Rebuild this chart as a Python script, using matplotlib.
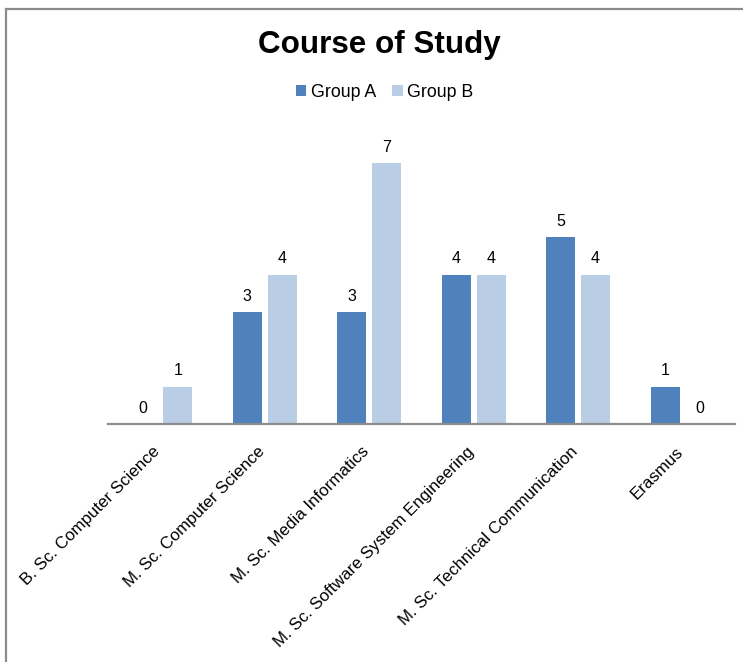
import numpy as np
import matplotlib.pyplot as plt
from matplotlib.patches import Rectangle
from matplotlib.transforms import ScaledTranslation

plt.rcParams['font.family'] = ['Liberation Sans', 'DejaVu Sans']

courses = ['B. Sc. Computer Science', 'M. Sc. Computer Science',
           'M. Sc. Media Informatics', 'M. Sc. Software System Engineering',
           'M. Sc. Technical Communication', 'Erasmus']
group_a = [0, 3, 3, 4, 5, 1]
group_b = [1, 4, 7, 4, 4, 0]

fig = plt.figure(figsize=(7.43, 6.62), dpi=100)
ax = fig.add_axes([0.1454, 0.3595, 0.8436, 0.4508])

x = np.arange(len(courses))
w = 0.277
off = 0.167
bars_a = ax.bar(x - off, group_a, w, color='#4f81bd', label='Group A')
bars_b = ax.bar(x + off, group_b, w, color='#b9cde5', label='Group B')

for bars in (bars_a, bars_b):
    ax.bar_label(bars, padding=6, fontsize=11.5)

ax.set_xlim(-0.5, len(courses) - 0.5)
ax.set_ylim(0, 8)
ax.set_yticks([])
ax.set_xticks(x)
ax.set_xticklabels(courses, rotation=45, ha='right', va='bottom',
                   rotation_mode='anchor', fontsize=12.2)
ax.tick_params(axis='x', length=0, pad=22)
# nudge the slanted labels a little to the right
shift = ScaledTranslation(0.03, 0, fig.dpi_scale_trans)
for lbl in ax.get_xticklabels():
    lbl.set_transform(lbl.get_transform() + shift)
for side in ('top', 'right', 'left'):
    ax.spines[side].set_visible(False)
ax.spines['bottom'].set_color('#8c8c8c')
ax.spines['bottom'].set_linewidth(1.6)

fig.text(0.511, 0.920, 'Course of Study', ha='center', va='baseline',
         fontsize=22.6, fontweight='bold')
fig.legend(loc='center', bbox_to_anchor=(0.5175, 0.861), ncol=2, frameon=False,
           fontsize=12.8, handlelength=0.6, handleheight=0.6,
           handletextpad=0.25, columnspacing=0.9)

# chart frame (left and top edges visible)
fig.patches.append(Rectangle((6 / 743, -0.1), 1.2, 1 - 9 / 662 + 0.1,
                             transform=fig.transFigure, fill=False,
                             edgecolor='#8c8c8c', linewidth=1.6))

fig.savefig('out.png', dpi=100)
